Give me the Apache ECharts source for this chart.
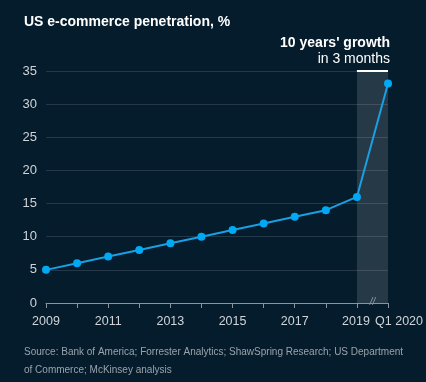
<!DOCTYPE html>
<html><head><meta charset="utf-8">
<script src="https://cdn.jsdelivr.net/npm/echarts@6/dist/echarts.min.js"></script>
<style>html,body{margin:0;padding:0;background:#051c2c;}#c{width:426px;height:382px;}</style>
</head><body><div id="c"></div>
<script>
const categories = ['2009','2010','2011','2012','2013','2014','2015','2016','2017','2018','2019','Q1 2020'];
const penetration = [5, 6, 7, 8, 9, 10, 11, 12, 13, 14, 16, 33.1];
const yTicks = [0, 5, 10, 15, 20, 25, 30, 35];
const FONT = 'Liberation Sans, Arial, sans-serif';
const chart = echarts.init(document.getElementById('c'));
chart.setOption({
  backgroundColor: '#051c2c',
  textStyle: {fontFamily: FONT},
  grid: {left: 46, right: 37, top: 71, bottom: 79},
  title: [
    {text: 'US e-commerce penetration, %', left: 19, top: 10, textStyle: {color: '#ffffff', fontSize: 14, fontWeight: 'bold', fontFamily: FONT}},
    {text: "10 years' growth", right: 31, top: 31, textStyle: {color: '#ffffff', fontSize: 14, fontWeight: 'bold', fontFamily: FONT}},
    {text: 'in 3 months', right: 31, top: 47, textStyle: {color: '#ffffff', fontSize: 14, fontWeight: 'normal', fontFamily: FONT}},
    {text: 'Source: Bank of America; Forrester Analytics; ShawSpring Research; US Department', left: 19, top: 342, textStyle: {color: '#9aa3ab', fontSize: 10, fontWeight: 'normal', fontFamily: FONT}},
    {text: 'of Commerce; McKinsey analysis', left: 19, top: 360, textStyle: {color: '#9aa3ab', fontSize: 10, fontWeight: 'normal', fontFamily: FONT}}
  ],
  xAxis: {
    type: 'category', data: categories, boundaryGap: false,
    axisLine: {lineStyle: {color: '#8a949c', width: 1}},
    axisTick: {show: true, length: 5, interval: 0, lineStyle: {color: '#8a949c'}},
    axisLabel: {color: '#d0d4d8', fontSize: 12.5, margin: 12, interval: 0,
      formatter: function (v, i) {
        if (i === 11) return '{q|' + v + '}';
        if (i === 10) return '{n|' + v + '}';
        return (i % 2 === 0) ? v : '';
      },
      rich: {
        q: {color: '#d0d4d8', fontSize: 12.5, padding: [0, 0, 0, 22]},
        n: {color: '#d0d4d8', fontSize: 12.5, padding: [0, 2, 0, 0]}
      }
    },
    splitLine: {show: false}
  },
  yAxis: {
    type: 'value', min: 0, max: 35, interval: 5,
    axisLine: {show: false}, axisTick: {show: false},
    axisLabel: {color: '#d0d4d8', fontSize: 13, margin: 9,
      formatter: function (v) { return yTicks.indexOf(v) >= 0 ? String(v) : ''; }},
    splitLine: {lineStyle: {color: '#25384a', width: 1}}
  },
  series: [{
    type: 'line', data: penetration, symbol: 'circle', symbolSize: 8,
    lineStyle: {color: '#1a9fe3', width: 2},
    itemStyle: {color: '#00a9f4'},
    z: 5,
    markArea: {silent: true, itemStyle: {color: 'rgba(255,255,255,0.13)'},
      data: [[{xAxis: '2019', yAxis: 0}, {xAxis: 'Q1 2020', yAxis: 35}]]},
    markLine: {silent: true, symbol: 'none', label: {show: false},
      lineStyle: {color: '#ffffff', width: 2, type: 'solid'},
      data: [[{coord: ['2019', 35]}, {coord: ['Q1 2020', 35]}]]}
  }]
});
const p19 = chart.convertToPixel({xAxisIndex: 0, yAxisIndex: 0}, ['2019', 0]);
const p20 = chart.convertToPixel({xAxisIndex: 0, yAxisIndex: 0}, ['Q1 2020', 0]);
chart.setOption({
  graphic: [{type: 'text', x: (p19[0] + p20[0]) / 2, y: p19[1] - 1,
    style: {text: '//', fill: '#8a949c', font: 'italic 10px ' + FONT, align: 'center', verticalAlign: 'middle'}}]
});
</script></body></html>
